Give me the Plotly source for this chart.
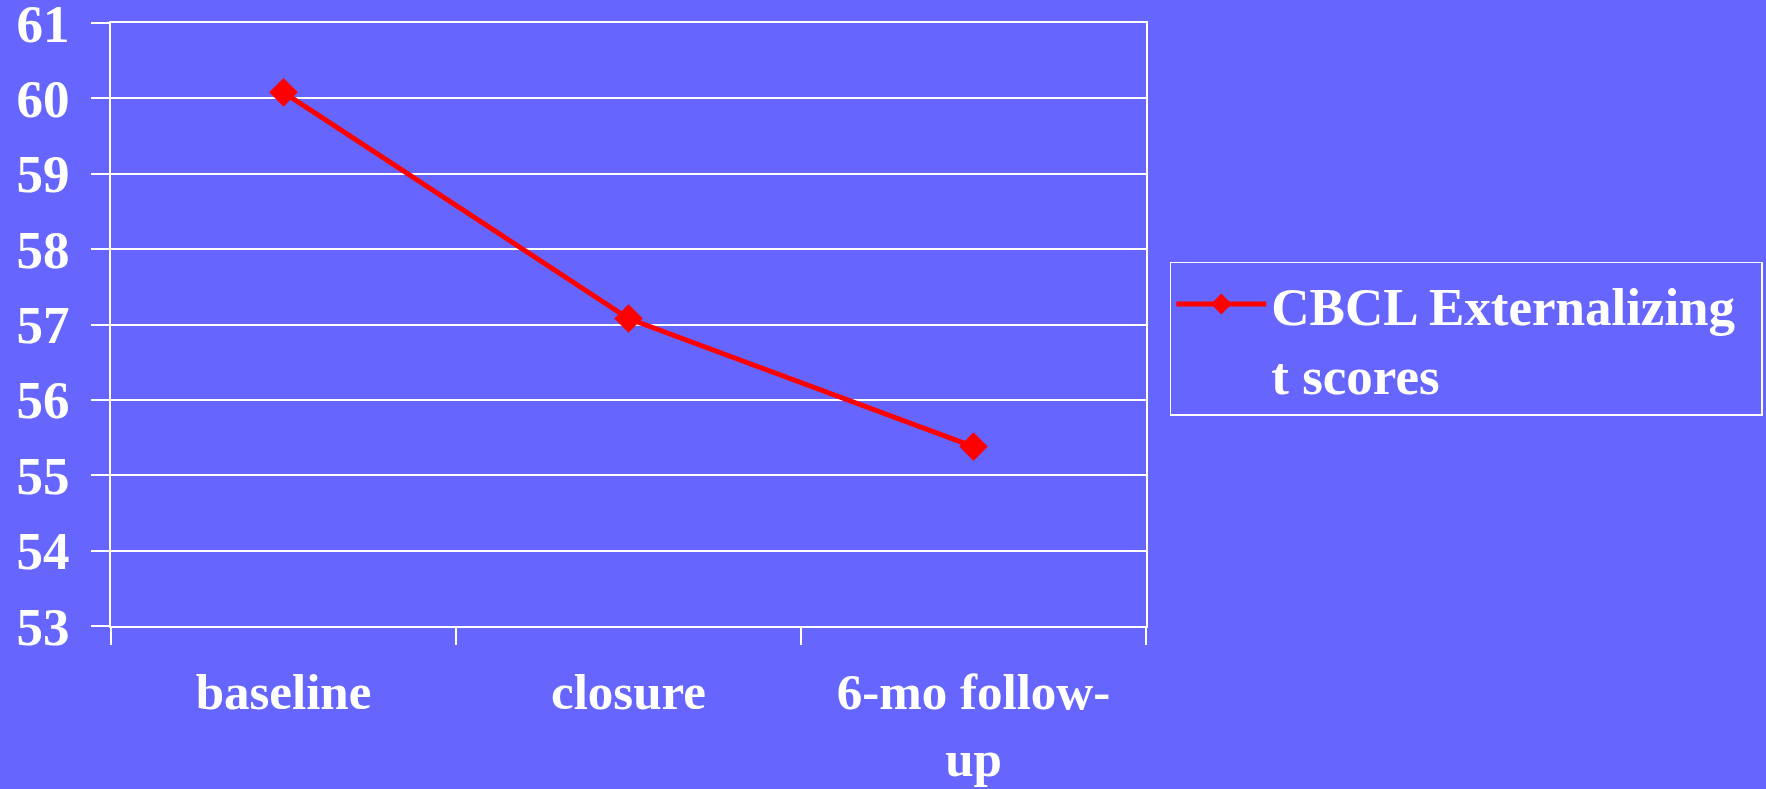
import plotly.graph_objects as go

categories = ["baseline", "closure", "6-mo follow-<br>up"]
values = [60.08, 57.08, 55.38]
series_name = "CBCL Externalizing<br>t scores"
y_ticks = [53, 54, 55, 56, 57, 58, 59, 60, 61]

BG = "#6666FF"
FONT = dict(family="Liberation Serif, Times New Roman, serif", size=53, color="white", weight="bold")
XFONT = dict(FONT, size=51)

fig = go.Figure()
fig.add_trace(go.Scatter(
    x=categories, y=values, name=series_name, mode="lines+markers",
    line=dict(color="#FF0000", width=5),
    marker=dict(symbol="diamond", size=22, color="#FF0000", line=dict(width=0)),
    showlegend=True,
))

fig.update_layout(
    width=1766, height=789,
    paper_bgcolor=BG, plot_bgcolor=BG,
    font=FONT,
    margin=dict(l=111, r=620, t=23, b=163, autoexpand=False),
    showlegend=True,
    legend=dict(
        x=1.023, y=0.6044, xanchor="left", yanchor="top",
        orientation="h",
        bgcolor=BG, bordercolor="white", borderwidth=1.5,
        font=FONT, valign="top", itemwidth=90,
        entrywidth=485, entrywidthmode="pixels",
    ),
    xaxis=dict(
        type="category", tickson="boundaries", ticks="outside", ticklen=17,
        tickwidth=2, tickcolor="white",
        showgrid=False, showline=True, linecolor="white", linewidth=2, mirror=True,
        tickfont=XFONT, range=[-0.5, 2.5], ticklabelstandoff=20, automargin=False,
    ),
    yaxis=dict(
        range=[53, 61], tickvals=y_ticks, ticks="outside", ticklen=18,
        tickwidth=2, tickcolor="white",
        showgrid=True, gridcolor="white", gridwidth=2,
        showline=True, linecolor="white", linewidth=2, mirror=True,
        zeroline=False, tickfont=FONT, ticklabelstandoff=11,
        ticklabeloverflow="allow", automargin=False,
    ),
)

fig.write_html(
    "out.html",
    config={"displayModeBar": False},
    post_script="document.body.style.margin='0';document.body.style.overflow='hidden';",
)
